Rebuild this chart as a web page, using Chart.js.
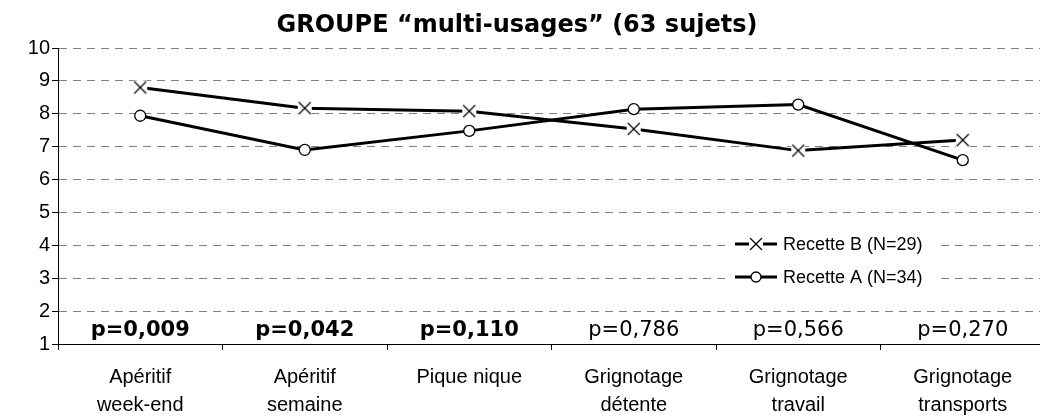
<!DOCTYPE html>
<html><head><meta charset="utf-8">
<script src="https://cdn.jsdelivr.net/npm/chart.js@4.4.0/dist/chart.umd.min.js"></script>
<style>html,body{margin:0;padding:0;background:#fff;overflow:hidden;width:1040px;height:420px}</style>
</head><body>
<canvas id="c" width="1056" height="420" style="width:1056px;height:420px;display:block"></canvas>
<script>
const categories = [['Apéritif','week-end'],['Apéritif','semaine'],['Pique nique'],['Grignotage','détente'],['Grignotage','travail'],['Grignotage','transports']];
const recetteB = [8.8, 8.17, 8.08, 7.54, 6.88, 7.2];
const recetteA = [7.94, 6.9, 7.48, 8.14, 8.28, 6.59];
const pValues = ['p=0,009','p=0,042','p=0,110','p=0,786','p=0,566','p=0,270'];
const pBold = [true, true, true, false, false, false];
const yMin = 1, yMax = 10, yStep = 1;
const seriesNames = ['Recette B (N=29)', 'Recette A (N=34)'];
const titleText = 'GROUPE \u201Cmulti-usages\u201D (63 sujets)';

function makeCross() {
  const s = 16, c = document.createElement('canvas');
  c.width = s; c.height = s;
  const g = c.getContext('2d');
  g.fillStyle = '#fff'; g.fillRect(1, 1, s - 2, s - 2);
  g.strokeStyle = '#000'; g.lineWidth = 1.2;
  g.beginPath(); g.moveTo(2, 2); g.lineTo(s - 2, s - 2); g.moveTo(s - 2, 2); g.lineTo(2, s - 2); g.stroke();
  return c;
}
const crossImg = makeCross();

const overlay = {
  id: 'overlay',
  afterDraw(chart) {
    const ctx = chart.ctx, xs = chart.scales.x;
    ctx.save();
    ctx.fillStyle = '#000';
    ctx.font = 'bold 24px "DejaVu Sans", Verdana, sans-serif';
    ctx.textAlign = 'center'; ctx.textBaseline = 'alphabetic';
    ctx.fillText(titleText, 517, 32);
    pValues.forEach((t, i) => {
      ctx.font = (pBold[i] ? 'bold ' : '') + '21px "DejaVu Sans", Verdana, sans-serif';
      ctx.fillText(t, xs.getPixelForValue(i), 336);
    });
    ctx.fillStyle = '#fff';
    ctx.fillRect(730, 229, 205, 63);
    const rows = [244, 277];
    rows.forEach((y, k) => {
      ctx.strokeStyle = '#000'; ctx.lineWidth = 3;
      ctx.beginPath(); ctx.moveTo(735, y); ctx.lineTo(777, y); ctx.stroke();
      if (k === 0) {
        ctx.drawImage(crossImg, 756 - 8, y - 8);
      } else {
        ctx.beginPath(); ctx.arc(756, y, 5, 0, Math.PI * 2);
        ctx.fillStyle = '#fff'; ctx.fill();
        ctx.lineWidth = 1.3; ctx.stroke();
      }
      ctx.fillStyle = '#000';
      ctx.font = '18px "Liberation Sans", Arial, sans-serif';
      ctx.textAlign = 'left'; ctx.textBaseline = 'middle';
      ctx.fillText(seriesNames[k], 783, y + 1);
    });
    ctx.restore();
  }
};

new Chart(document.getElementById('c'), {
  type: 'line',
  data: {
    labels: categories,
    datasets: [
      { label: seriesNames[0], data: recetteB, borderColor: '#000', borderWidth: 3,
        pointStyle: crossImg, pointRadius: 8, tension: 0 },
      { label: seriesNames[1], data: recetteA, borderColor: '#000', borderWidth: 3,
        pointStyle: 'circle', pointRadius: 5.5, pointBackgroundColor: '#fff',
        pointBorderColor: '#000', pointBorderWidth: 1.3, tension: 0 }
    ]
  },
  options: {
    responsive: false, devicePixelRatio: 1, animation: false,
    layout: { padding: { top: 48, right: 2, left: 0, bottom: 0 } },
    plugins: { legend: { display: false }, title: { display: false }, tooltip: { enabled: false } },
    scales: {
      x: {
        offset: true,
        grid: { display: true, drawOnChartArea: false, drawTicks: true, tickLength: 6, color: '#000', tickColor: '#000', offset: true },
        border: { display: true, color: '#000', width: 1 },
        ticks: { color: '#000', padding: 13, maxRotation: 0, autoSkip: false,
          font: { family: '"Liberation Sans", Arial, sans-serif', size: 20, lineHeight: 1.4 } },
        afterFit(s) { s.height = 76; }
      },
      y: {
        min: yMin, max: yMax,
        grid: { color: '#808080', lineWidth: 1, tickColor: '#000', tickLength: 6, tickBorderDash: [] },
        border: { display: true, color: '#000', width: 1, dash: [8, 6] },
        ticks: { stepSize: yStep, color: '#000', padding: 2,
          font: { family: '"Liberation Sans", Arial, sans-serif', size: 20 } },
        afterFit(s) { s.width = 58; }
      }
    }
  },
  plugins: [overlay]
});
</script>
</body></html>
